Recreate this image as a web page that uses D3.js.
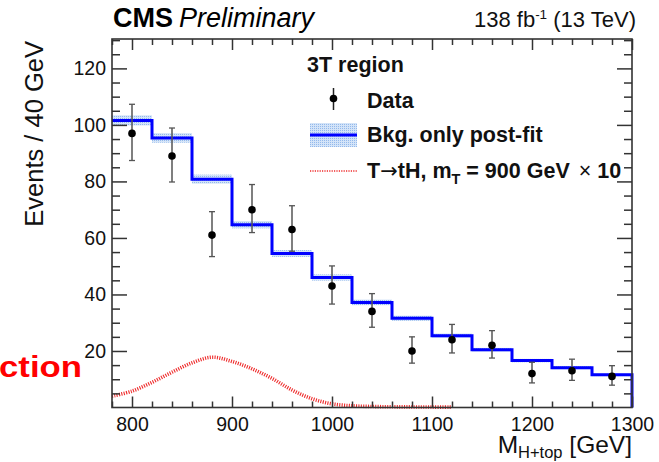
<!DOCTYPE html>
<html>
<head>
<meta charset="utf-8">
<script src="https://cdn.jsdelivr.net/npm/d3@7"></script>
<style>
  html, body { margin: 0; padding: 0; background: #fff; }
  svg { display: block; }
  text { font-family: "Liberation Sans", Arial, Helvetica, sans-serif; }
</style>
</head>
<body>
<svg id="chart" width="659" height="462"></svg>
<script>
// ---- data: M(H+top) distribution, 3T region, 40 GeV bins ----
const binCenters   = [800, 840, 880, 920, 960, 1000, 1040, 1080, 1120, 1160, 1200, 1240, 1280];
const binWidth     = 40;
const dataCounts   = [97, 89, 61, 70, 63, 43, 34, 20, 24, 22, 12, 13, 11];
const dataErrUp    = [10.3, 9.9, 8.3, 8.9, 8.4, 7.1, 6.3, 5.0, 5.4, 5.2, 4.0, 4.1, 3.8];
const dataErrDown  = [9.6, 9.2, 7.6, 8.1, 7.7, 6.4, 5.6, 4.3, 4.7, 4.5, 3.3, 3.4, 3.1];
const bkgPostFit   = [101.6, 95.4, 80.8, 64.7, 54.5, 46.0, 37.2, 31.6, 25.4, 20.4, 16.6, 14.1, 11.6];
const bkgUnc       = [1.8, 1.7, 1.6, 1.3, 1.2, 1.1, 1.0, 0.9, 0.8, 0.7, 0.6, 0.6, 0.5];
// signal T -> tH, m_T = 900 GeV, scaled by 10
const sigMass      = [780, 800, 820, 840, 860, 880, 900, 920, 940, 960, 980, 1000, 1020, 1040, 1060, 1080, 1100, 1120];
const sigYield     = [4.0, 5.8, 8.9, 12.5, 15.8, 17.8, 16.3, 13.7, 10.3, 6.2, 3.1, 1.3, 0.6, 0.35, 0.25, 0.2, 0.15, 0.15];
// axis ticks
const yMajorTicks  = [20, 40, 60, 80, 100, 120];
const yMinorTicks  = [5, 10, 15, 25, 30, 35, 45, 50, 55, 65, 70, 75, 85, 90, 95, 105, 110, 115, 125, 130];
const xMajorTicks  = [800, 900, 1000, 1100, 1200, 1300];
const xMinorTicks  = [780, 820, 840, 860, 880, 920, 940, 960, 980, 1020, 1040, 1060, 1080,
                      1120, 1140, 1160, 1180, 1220, 1240, 1260, 1280];

const svg = d3.select("#chart");
const frame = { left: 112, right: 632, top: 39, bottom: 407.5 };

const x = d3.scaleLinear().domain([780, 1300]).range([frame.left, frame.right]);
const y = d3.scaleLinear().domain([0, 130.4]).range([frame.bottom, frame.top]);

// dotted light-blue fill for the background uncertainty band
const defs = svg.append("defs");
const pat = defs.append("pattern").attr("id", "uncFill")
  .attr("patternUnits", "userSpaceOnUse").attr("width", 2).attr("height", 2);
pat.append("rect").attr("width", 2).attr("height", 2).attr("fill", "#d4e4f8");
pat.append("rect").attr("width", 1).attr("height", 1).attr("fill", "#93b9ec");

const plot = svg.append("g");

// uncertainty band (one box per bin)
const bins = binCenters.map((c, i) => ({
  lo: c - binWidth / 2, hi: c + binWidth / 2, v: bkgPostFit[i], u: bkgUnc[i]
}));
plot.selectAll("rect.unc").data(bins).join("rect").attr("class", "unc")
  .attr("x", d => x(d.lo)).attr("width", d => x(d.hi) - x(d.lo))
  .attr("y", d => y(d.v + d.u)).attr("height", d => y(d.v - d.u) - y(d.v + d.u))
  .attr("fill", "url(#uncFill)");

// background step histogram
const stepPts = [];
bins.forEach(d => { stepPts.push([d.lo, d.v]); stepPts.push([d.hi, d.v]); });
stepPts.push([bins[bins.length - 1].hi, 0]);
plot.append("path")
  .attr("d", d3.line().x(d => x(d[0])).y(d => y(d[1]))(stepPts))
  .attr("fill", "none").attr("stroke", "#0000ff").attr("stroke-width", 3)
  .attr("stroke-linejoin", "miter");

// signal curve
plot.append("path")
  .attr("d", d3.line().curve(d3.curveCatmullRom)
    .x((d, i) => x(sigMass[i])).y(d => y(d))(sigYield))
  .attr("fill", "none").attr("stroke", "#ee2b2b").attr("stroke-width", 3.6)
  .attr("stroke-dasharray", "1.1,1.3");

// data points with error bars
const pts = binCenters.map((c, i) => ({ c, n: dataCounts[i], up: dataErrUp[i], dn: dataErrDown[i] }));
const pg = plot.selectAll("g.pt").data(pts).join("g").attr("class", "pt");
pg.append("line")
  .attr("x1", d => x(d.c)).attr("x2", d => x(d.c))
  .attr("y1", d => y(d.n + d.up)).attr("y2", d => y(d.n - d.dn))
  .attr("stroke", "#555").attr("stroke-width", 1.5);
[d => d.n + d.up, d => d.n - d.dn].forEach(f => {
  pg.append("line")
    .attr("x1", d => x(d.c) - 3).attr("x2", d => x(d.c) + 3)
    .attr("y1", d => y(f(d))).attr("y2", d => y(f(d)))
    .attr("stroke", "#555").attr("stroke-width", 1.3);
});
pg.append("circle").attr("cx", d => x(d.c)).attr("cy", d => y(d.n)).attr("r", 3.8).attr("fill", "#000");

// ---- axes and frame ----
const axisColor = "#333";
function styleAxis(g) {
  g.select(".domain").remove();
  g.selectAll(".tick line").attr("stroke", axisColor).attr("stroke-width", 1.5);
  g.selectAll("text").attr("font-size", 19.5).attr("fill", "#111")
    .attr("font-family", "'Liberation Sans', Arial, Helvetica, sans-serif");
}
// left
svg.append("g").attr("transform", `translate(${frame.left},0)`)
  .call(d3.axisLeft(y).tickValues(yMajorTicks).tickSize(-15).tickFormat(d3.format("d")))
  .call(styleAxis)
  .call(g => g.selectAll("text").attr("x", -6));
svg.append("g").attr("transform", `translate(${frame.left},0)`)
  .call(d3.axisLeft(y).tickValues(yMinorTicks).tickSize(-8).tickFormat(""))
  .call(styleAxis);
// right
svg.append("g").attr("transform", `translate(${frame.right},0)`)
  .call(d3.axisRight(y).tickValues(yMajorTicks).tickSize(-15).tickFormat(""))
  .call(styleAxis);
svg.append("g").attr("transform", `translate(${frame.right},0)`)
  .call(d3.axisRight(y).tickValues(yMinorTicks).tickSize(-8).tickFormat(""))
  .call(styleAxis);
// bottom
svg.append("g").attr("transform", `translate(0,${frame.bottom})`)
  .call(d3.axisBottom(x).tickValues(xMajorTicks).tickSize(-11).tickPadding(10).tickFormat(d3.format("d")))
  .call(styleAxis);
svg.append("g").attr("transform", `translate(0,${frame.bottom})`)
  .call(d3.axisBottom(x).tickValues(xMinorTicks).tickSize(-6).tickFormat(""))
  .call(styleAxis);
// top
svg.append("g").attr("transform", `translate(0,${frame.top})`)
  .call(d3.axisTop(x).tickValues(xMajorTicks).tickSize(-11).tickFormat(""))
  .call(styleAxis);
svg.append("g").attr("transform", `translate(0,${frame.top})`)
  .call(d3.axisTop(x).tickValues(xMinorTicks).tickSize(-6).tickFormat(""))
  .call(styleAxis);

svg.append("rect")
  .attr("x", frame.left).attr("y", frame.top)
  .attr("width", frame.right - frame.left).attr("height", frame.bottom - frame.top)
  .attr("fill", "none").attr("stroke", axisColor).attr("stroke-width", 1.6);

// axis titles
svg.append("text")
  .attr("transform", "translate(43,41) rotate(-90)")
  .attr("text-anchor", "end").attr("font-size", 25.5).attr("fill", "#111")
  .text("Events / 40 GeV");

const xt = svg.append("text").attr("x", 632).attr("y", 452.5)
  .attr("text-anchor", "end").attr("font-size", 24.5).attr("fill", "#111");
xt.append("tspan").text("M");
xt.append("tspan").attr("font-size", 16.5).attr("dy", 5.5).text("H+top");
xt.append("tspan").attr("dy", -5.5).text(" [GeV]");

// header
const hdr = svg.append("text").attr("x", 113).attr("y", 27).attr("fill", "#000");
hdr.append("tspan").attr("font-weight", "bold").attr("font-size", 27).text("CMS");
hdr.append("tspan").attr("font-style", "italic").attr("font-size", 27).attr("dx", 6).text("Preliminary");

const lumi = svg.append("text").attr("x", 636).attr("y", 27)
  .attr("text-anchor", "end").attr("font-size", 22).attr("fill", "#111");
lumi.append("tspan").text("138 fb");
lumi.append("tspan").attr("font-size", 13.5).attr("dy", -8).text("-1");
lumi.append("tspan").attr("dy", 8).text(" (13 TeV)");

// ---- legend ----
const lg = svg.append("g");
const lgFont = 21.5;
lg.append("text").attr("x", 307).attr("y", 72).attr("font-weight", "bold")
  .attr("font-size", lgFont).attr("fill", "#111").text("3T region");

// data entry
lg.append("line").attr("x1", 333.5).attr("x2", 333.5).attr("y1", 88).attr("y2", 110)
  .attr("stroke", "#222").attr("stroke-width", 1.5);
lg.append("circle").attr("cx", 333.5).attr("cy", 98.5).attr("r", 3.8).attr("fill", "#000");
lg.append("text").attr("x", 367).attr("y", 107.5).attr("font-weight", "bold")
  .attr("font-size", lgFont).attr("fill", "#111").text("Data");

// background entry
lg.append("rect").attr("x", 310).attr("y", 123).attr("width", 47).attr("height", 24)
  .attr("fill", "url(#uncFill)");
lg.append("line").attr("x1", 310).attr("x2", 357).attr("y1", 135).attr("y2", 135)
  .attr("stroke", "#0000ff").attr("stroke-width", 3);
lg.append("text").attr("x", 367).attr("y", 142).attr("font-weight", "bold")
  .attr("font-size", lgFont).attr("fill", "#111").text("Bkg. only post-fit");

// signal entry
lg.append("line").attr("x1", 310).attr("x2", 357).attr("y1", 171).attr("y2", 171)
  .attr("stroke", "#ee2b2b").attr("stroke-width", 1.6).attr("stroke-dasharray", "1.2,1.2");
const st = lg.append("text").attr("x", 367).attr("y", 177.5).attr("font-weight", "bold")
  .attr("font-size", lgFont).attr("fill", "#111");
st.append("tspan").text("T");
st.append("tspan").attr("font-family", "'DejaVu Sans', sans-serif").attr("font-weight", "normal")
  .attr("font-size", 21).text("\u2192");
st.append("tspan").text("tH, m");
st.append("tspan").attr("font-size", 14.5).attr("dy", 6).text("T");
st.append("tspan").attr("dy", -6).text(" = 900 GeV ");
st.append("tspan").attr("font-weight", "normal").attr("dx", 3).text("\u00d7");
st.append("tspan").text(" 10");

// red slide caption fragment at the left edge
svg.append("text").attr("x", -1).attr("y", 377)
  .attr("font-family", "'Open Sans', sans-serif").attr("font-weight", "bold")
  .attr("font-size", 29).attr("fill", "#ff0000")
  .attr("textLength", 83).attr("lengthAdjust", "spacingAndGlyphs")
  .text("ction");
</script>
</body>
</html>
